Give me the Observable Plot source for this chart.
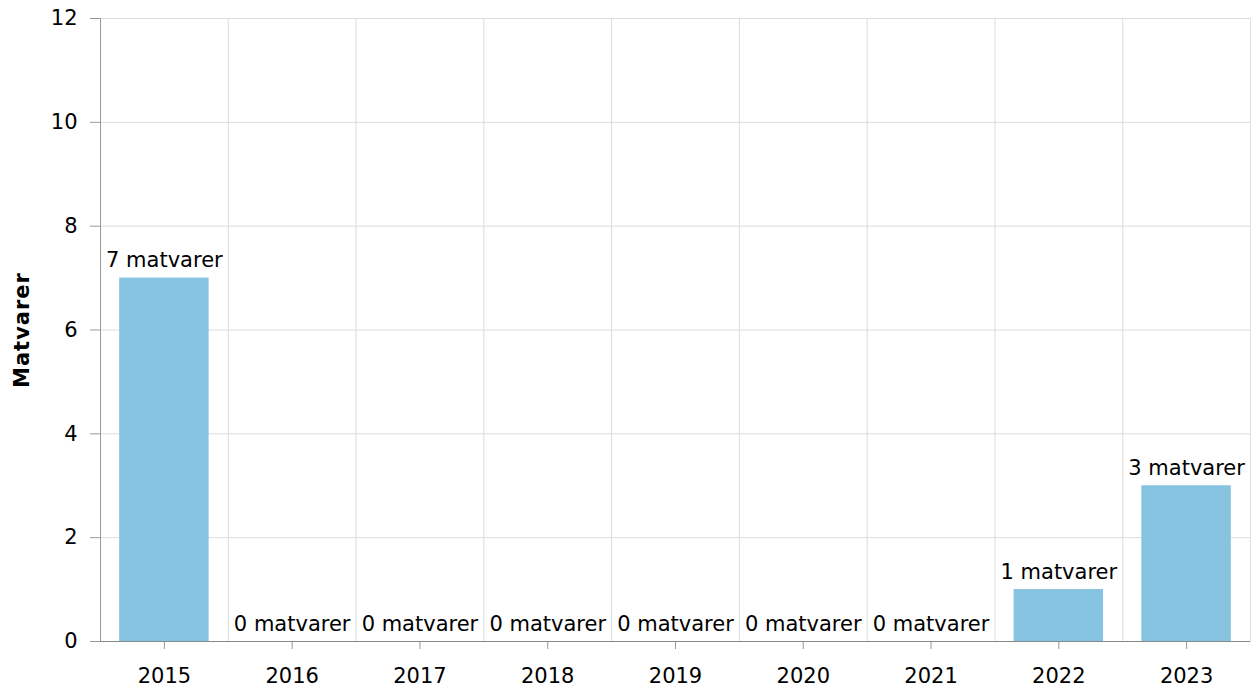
<!DOCTYPE html>
<html>
<head>
<meta charset="utf-8">
<script src="https://cdn.jsdelivr.net/npm/d3@7"></script>
<script src="https://cdn.jsdelivr.net/npm/@observablehq/plot@0.6"></script>
<style>
  html, body { margin: 0; padding: 0; background: #fff; }
  #chart svg { font-family: "DejaVu Sans", Verdana, sans-serif; }
  #chart [aria-label="y-axis label"] text { font-weight: bold; font-size: 21px; letter-spacing: 1px; fill: #000; }
</style>
</head>
<body>
<div id="chart"></div>
<script>
const years = ["2015", "2016", "2017", "2018", "2019", "2020", "2021", "2022", "2023"];
const counts = [7, 0, 0, 0, 0, 0, 0, 1, 3];
const labelSuffix = " matvarer";
const yTicks = [0, 2, 4, 6, 8, 10, 12];

const data = years.map((y, i) => ({year: y, count: counts[i], label: counts[i] + labelSuffix}));

const W = 1258, H = 689;
const mL = 100, mR = 8, mT = 18, mB = 48;
const step = (W - mL - mR) / years.length;

const chart = Plot.plot({
  width: W,
  height: H,
  marginLeft: mL,
  marginRight: mR,
  marginTop: mT,
  marginBottom: mB,
  style: {fontSize: "21px", fontFamily: "DejaVu Sans, Verdana, sans-serif", color: "#000", background: "#fff"},
  x: {type: "band", domain: years, paddingInner: 0.3, paddingOuter: 0.15, round: false},
  y: {domain: [0, 12]},
  marks: [
    Plot.frame({stroke: "#e0e0e0", strokeWidth: 1}),
    Plot.gridY(yTicks, {stroke: "#dcdcdc", strokeOpacity: 1}),
    Plot.ruleX(years.slice(1), {x: d => d, dx: -step / 2, stroke: "#dcdcdc"}),
    Plot.barY(data, {x: "year", y: "count", fill: "#86c3e1"}),
    Plot.text(data, {x: "year", y: "count", text: "label", lineAnchor: "bottom", dy: -11, fontSize: 21, fill: "#000", style: {letterSpacing: "2.5px"}}),
    Plot.axisY(yTicks, {tickSize: 10, tickPadding: 13, stroke: "#999", fontSize: 21, tickFormat: "d", label: "Matvarer", labelAnchor: "center", labelArrow: "none", labelOffset: 86}),
    Plot.axisX({tickSize: 8, tickPadding: 19, stroke: "#999", fontSize: 21, label: null}),
    Plot.ruleX([years[0]], {dx: -step / 2, stroke: "#999"}),
    Plot.ruleY([0], {stroke: "#888"})
  ]
});
document.getElementById("chart").appendChild(chart);
</script>
</body>
</html>
